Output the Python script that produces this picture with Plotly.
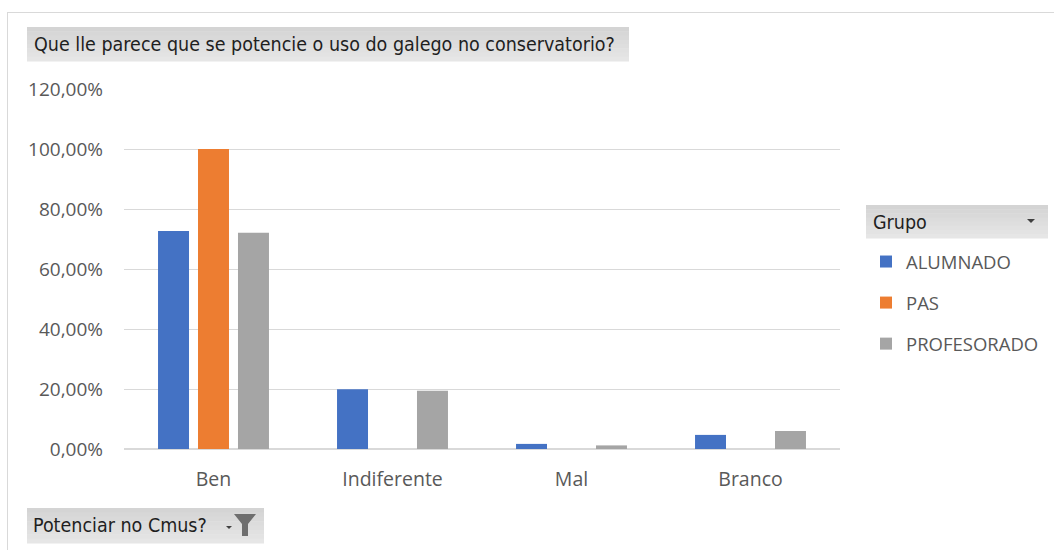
import plotly.graph_objects as go

# Survey answers by group (share of respondents)
categories = ["Ben", "Indiferente", "Mal", "Branco"]
alumnado = [0.727, 0.199, 0.017, 0.047]
pas = [1.0, 0.0, 0.0, 0.0]
profesorado = [0.721, 0.194, 0.012, 0.060]
series_names = ["ALUMNADO", "PAS", "PROFESORADO"]
colors = ["#4472C4", "#ED7D31", "#A5A5A5"]
y_ticks = [0, 0.2, 0.4, 0.6, 0.8, 1.0, 1.2]

title_text = "Que lle parece que se potencie o uso do galego no conservatorio?"
filter_text = "Potenciar no Cmus?"
legend_title = "Grupo"

W, H = 1054, 550
ML, MR, MT, MB = 124, 214, 89, 101
PW, PH = W - ML - MR, H - MT - MB


def px(x):
    return (x - ML) / PW


def py(y):
    return (H - MB - y) / PH


fig = go.Figure()
for name, vals, col in zip(series_names, [alumnado, pas, profesorado], colors):
    fig.add_trace(go.Bar(
        x=categories, y=vals, name=name, marker_color=col,
        marker_line_width=0, legendgroup=name,
    ))

shapes = []
annotations = []


def gradient_box(x0, y0, x1, y1, c_top, c_bot, steps=8):
    def hx(c):
        return [int(c[i:i + 2], 16) for i in (1, 3, 5)]
    a, b = hx(c_top), hx(c_bot)
    h = (y1 - y0) / steps
    for i in range(steps):
        t = i / (steps - 1)
        c = "rgb(%d,%d,%d)" % tuple(round(a[k] + (b[k] - a[k]) * t) for k in range(3))
        shapes.append(dict(type="rect", xref="paper", yref="paper",
                           x0=px(x0), x1=px(x1), y0=py(y0 + i * h), y1=py(y0 + (i + 1) * h + 0.5),
                           fillcolor=c, line_width=0, layer="below"))


def path_px(points):
    return "M " + " L ".join("%f,%f" % (px(x), py(y)) for x, y in points) + " Z"


BTN_FONT = dict(family="DejaVu Sans Condensed", size=19.5, color="#1F1F1F")

# outer frame of the chart area
shapes.append(dict(type="line", xref="paper", yref="paper", x0=px(7), x1=px(W), y0=py(12.5), y1=py(12.5),
                   line=dict(color="#D9D9D9", width=1)))
shapes.append(dict(type="line", xref="paper", yref="paper", x0=px(7.5), x1=px(7.5), y0=py(12), y1=py(H),
                   line=dict(color="#D9D9D9", width=1)))

# title button
gradient_box(27, 27, 629, 61, "#D4D4D4", "#E6E6E6")
annotations.append(dict(text=title_text, xref="paper", yref="paper", x=px(32), y=py(44),
                        xanchor="left", yanchor="middle", showarrow=False, font=BTN_FONT))

# filter button with dropdown arrow and funnel icon
gradient_box(27, 508, 264, 543, "#D4D4D4", "#E6E6E6")
annotations.append(dict(text=filter_text, xref="paper", yref="paper", x=px(31), y=py(525),
                        xanchor="left", yanchor="middle", showarrow=False, font=BTN_FONT))
shapes.append(dict(type="path", xref="paper", yref="paper",
                   path=path_px([(226, 526), (232, 526), (229, 529)]),
                   fillcolor="#404040", line_width=0))
shapes.append(dict(type="path", xref="paper", yref="paper",
                   path=path_px([(234, 514), (256, 514), (248, 524), (248, 536), (242, 536), (242, 524)]),
                   fillcolor="#6E6E6E", line_width=0))

# legend header
gradient_box(866, 205, 1048, 238, "#D4D4D4", "#E6E6E6")
annotations.append(dict(text=legend_title, xref="paper", yref="paper", x=px(871), y=py(222),
                        xanchor="left", yanchor="middle", showarrow=False, font=BTN_FONT))
shapes.append(dict(type="path", xref="paper", yref="paper",
                   path=path_px([(1027, 219), (1035, 219), (1031, 223)]),
                   fillcolor="#404040", line_width=0))

fig.update_layout(
    width=W, height=H,
    margin=dict(l=ML, r=MR, t=MT, b=MB, autoexpand=False),
    paper_bgcolor="white", plot_bgcolor="white",
    separators=",.",
    barmode="group", bargap=0.33, bargroupgap=0.225,
    font=dict(family="Open Sans", color="#595959"),
    showlegend=True,
    legend=dict(xref="container", yref="container", x=866 / W, y=1 - 243 / H,
                xanchor="left", yanchor="top", tracegroupgap=14,
                font=dict(family="Open Sans", size=18.5, color="#595959"),
                itemwidth=30, bgcolor="rgba(0,0,0,0)"),
    shapes=shapes, annotations=annotations,
)
fig.update_yaxes(range=[0, 1.2], tickvals=y_ticks, tickformat=".2%",
                 gridcolor="#D9D9D9", gridwidth=1, zeroline=True, zerolinecolor="#D9D9D9",
                 showline=False, ticks="", ticklabelstandoff=20,
                 tickfont=dict(family="Open Sans", size=19, color="#595959"))
fig.update_xaxes(showline=False, ticks="", tickfont=dict(family="Open Sans", size=19.5, color="#595959"),
                 ticklabelstandoff=16)

fig.write_html("out.html")
